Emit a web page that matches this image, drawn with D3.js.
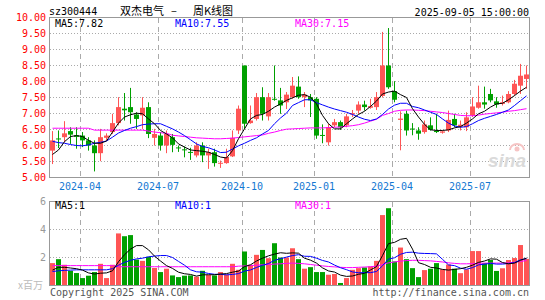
<!DOCTYPE html>
<html>
<head>
<meta charset="utf-8">
<script src="https://cdn.jsdelivr.net/npm/d3@7"></script>
<style>
  body { margin: 0; background: #fff; }
  svg { display: block; }
</style>
</head>
<body>
<script>
// weekly candles, one entry per trading week (2024-03 .. 2025-09-05)
const open = [5.84,6.22,6.26,6.45,6.32,6.31,6.16,6.00,5.76,6.24,6.42,6.70,7.15,7.20,6.97,6.94,7.20,6.24,6.31,6.00,
  6.26,5.94,5.88,5.80,5.69,6.00,5.69,5.79,5.44,5.45,5.66,6.47,8.50,6.70,6.83,7.51,6.91,7.46,7.41,7.35,
  7.51,7.84,7.51,7.51,7.46,6.33,6.10,6.63,6.73,6.63,6.97,7.09,7.28,7.18,7.20,7.55,8.50,7.70,6.80,6.99,
  6.53,6.47,6.42,6.63,6.46,6.40,6.47,6.83,6.59,6.57,6.94,7.18,7.35,7.61,7.38,7.30,7.35,7.61,7.87,8.08];
const high = [6.45,6.47,6.76,6.57,6.57,6.42,6.26,6.16,6.52,6.38,6.99,7.51,7.64,7.80,7.04,7.51,7.35,6.52,6.42,6.47,
  6.36,6.00,5.97,5.93,6.10,6.10,5.90,5.90,5.53,5.90,6.47,7.25,8.50,7.25,7.64,7.82,7.64,8.50,7.80,7.67,
  8.14,8.16,7.67,7.61,7.51,6.66,6.68,6.83,6.78,6.99,7.11,7.38,7.40,7.46,7.67,9.55,9.67,8.01,7.07,7.09,
  6.70,6.57,6.78,6.88,6.99,6.47,7.09,6.99,6.78,7.04,7.51,7.87,7.84,7.77,7.51,7.56,7.70,8.05,8.55,8.50];
const low = [5.42,5.92,6.10,6.05,5.90,5.95,5.84,5.19,5.51,6.16,6.36,6.63,6.78,6.68,6.52,6.52,6.23,6.00,5.84,5.76,
  5.79,5.80,5.63,5.55,5.63,5.48,5.27,5.34,5.30,5.43,5.64,6.36,6.52,6.68,6.78,6.78,6.78,7.40,6.99,7.14,
  7.46,7.46,7.20,6.89,6.21,6.07,6.00,6.57,6.49,6.57,6.89,6.99,7.09,7.15,7.11,7.50,7.77,7.35,5.85,6.31,
  6.32,6.18,6.37,6.47,6.39,6.37,6.42,6.57,6.47,6.45,6.89,7.15,7.15,7.35,7.18,7.25,7.32,7.56,7.61,7.77];
const close = [6.16,6.19,6.38,6.34,6.27,6.16,6.00,5.76,6.26,6.31,6.70,7.20,7.10,7.04,6.83,7.18,6.36,6.36,6.00,6.36,
  6.02,5.92,5.86,5.78,6.00,5.69,5.79,5.45,5.46,5.64,6.24,7.15,6.68,6.78,7.51,6.99,7.51,7.44,7.25,7.59,
  7.87,7.51,7.59,7.41,6.31,6.30,6.57,6.73,6.57,6.91,7.01,7.28,7.20,7.23,7.51,8.50,7.82,7.43,6.84,6.47,
  6.50,6.37,6.66,6.49,6.42,6.44,6.80,6.63,6.65,6.88,7.22,7.35,7.28,7.41,7.28,7.35,7.61,7.93,8.18,8.22];

const ma5 = [5.72,5.86,6.12,6.28,6.31,6.28,6.16,6.07,6.07,6.14,6.42,6.70,6.89,6.96,7.01,6.99,6.83,6.68,6.47,6.36,
  6.24,6.05,5.95,5.86,5.84,5.82,5.79,5.72,5.64,5.61,5.84,6.21,6.52,6.83,6.94,6.97,7.07,7.20,7.30,7.41,
  7.49,7.57,7.59,7.51,7.30,6.94,6.68,6.52,6.52,6.68,6.83,6.97,7.07,7.22,7.39,7.61,7.67,7.70,7.59,7.50,
  7.15,6.89,6.66,6.49,6.47,6.47,6.49,6.55,6.59,6.70,6.83,6.99,7.07,7.20,7.30,7.32,7.43,7.56,7.70,7.82];
const ma10 = [6.13,6.09,6.07,6.03,6.00,5.99,6.02,6.07,6.10,6.14,6.26,6.39,6.47,6.54,6.59,6.65,6.67,6.68,6.68,6.60,
  6.52,6.42,6.31,6.18,6.05,5.97,5.93,5.86,5.78,5.79,5.89,5.99,6.07,6.16,6.24,6.36,6.47,6.68,6.86,7.01,
  7.25,7.34,7.43,7.43,7.34,7.27,7.20,7.14,7.09,7.04,6.97,6.89,6.82,6.78,6.83,6.97,7.14,7.26,7.32,7.32,
  7.22,7.18,7.11,7.04,6.97,6.83,6.70,6.61,6.57,6.59,6.68,6.78,6.85,6.91,6.97,7.04,7.11,7.25,7.40,7.55];
const ma30 = [6.54,6.54,6.54,6.54,6.54,6.54,6.54,6.48,6.48,6.48,6.48,6.48,6.48,6.48,6.48,6.48,6.45,6.42,6.40,6.38,
  6.32,6.30,6.28,6.26,6.24,6.23,6.22,6.21,6.21,6.22,6.23,6.25,6.27,6.29,6.31,6.33,6.38,6.42,6.47,6.51,
  6.52,6.53,6.54,6.55,6.55,6.55,6.56,6.57,6.58,6.60,6.62,6.65,6.70,6.76,6.82,6.94,7.00,7.07,7.10,7.11,
  7.11,7.10,7.09,7.07,7.05,7.03,7.00,6.97,6.94,6.93,6.93,6.95,6.98,7.00,7.02,7.04,7.07,7.09,7.12,7.15];

// volume, millions of shares
const volume = [1.60,1.88,1.48,1.05,0.89,0.53,0.70,0.96,1.55,0.53,1.48,3.72,3.52,3.60,1.85,1.76,2.05,1.25,0.96,1.20,
  0.72,0.60,0.70,0.72,0.63,1.05,0.75,0.72,0.96,0.79,1.55,1.12,2.43,1.48,2.19,2.54,1.95,3.02,2.00,2.00,
  2.66,1.88,1.20,1.31,0.96,0.96,0.77,0.82,0.18,0.53,1.12,1.24,1.29,1.36,1.76,5.03,5.52,1.72,2.71,1.88,
  1.24,0.60,1.10,1.20,1.60,1.15,1.50,1.20,0.88,1.15,2.46,2.46,1.60,1.82,1.04,1.23,1.82,1.96,2.89,1.90];
const volMa5 = [1.10,1.30,1.30,1.25,1.20,1.10,0.90,0.82,0.88,0.90,1.05,1.70,2.20,2.60,2.85,2.85,2.55,2.10,1.75,1.42,
  1.22,0.95,0.84,0.79,0.67,0.76,0.77,0.77,0.82,0.85,0.95,1.03,1.35,1.48,1.75,1.95,2.12,2.24,2.34,2.30,
  2.33,2.31,1.95,1.81,1.60,1.26,1.04,0.96,0.74,0.65,0.68,0.80,0.87,1.11,1.35,2.14,2.99,3.08,3.30,3.37,
  2.60,1.63,1.50,1.30,1.25,1.15,1.10,1.15,1.20,1.30,1.45,1.65,1.75,1.90,1.88,1.64,1.55,1.60,1.80,1.96];
const volMa10 = [1.00,1.05,1.08,1.10,1.12,1.12,1.12,1.12,1.12,1.12,1.20,1.45,1.65,1.80,1.90,1.95,2.05,2.10,2.14,2.14,
  2.00,1.72,1.45,1.12,0.98,0.95,0.86,0.80,0.80,0.76,0.79,0.85,1.03,1.11,1.29,1.44,1.57,1.80,1.91,2.03,
  2.14,2.20,2.09,2.08,1.95,1.79,1.68,1.46,1.27,1.13,0.97,0.91,0.92,0.92,1.00,1.41,1.89,1.98,2.23,2.36,
  2.38,2.31,2.29,2.28,2.26,1.87,1.47,1.42,1.24,1.16,1.28,1.47,1.52,1.58,1.53,1.53,1.57,1.64,1.84,1.92];
const volMa30 = [1.42,1.42,1.42,1.42,1.42,1.42,1.42,1.42,1.42,1.42,1.42,1.34,1.34,1.34,1.34,1.34,1.34,1.34,1.34,1.34,
  1.34,1.34,1.34,1.34,1.34,1.34,1.34,1.34,1.34,1.34,1.34,1.38,1.40,1.42,1.45,1.48,1.50,1.53,1.55,1.58,
  1.60,1.58,1.55,1.50,1.45,1.40,1.36,1.33,1.30,1.28,1.28,1.30,1.32,1.34,1.38,1.50,1.62,1.68,1.74,1.78,
  1.80,1.80,1.78,1.76,1.72,1.68,1.62,1.58,1.55,1.55,1.56,1.58,1.60,1.60,1.60,1.60,1.62,1.66,1.72,1.78];

const tickIdx = [5, 18, 32, 44, 57, 70];
const tickLabels = ['2024-04', '2024-07', '2024-10', '2025-01', '2025-04', '2025-07'];
const priceTicks = [5, 5.5, 6, 6.5, 7, 7.5, 8, 8.5, 9, 9.5, 10];
const volTicks = [2, 4, 6];

const w = 545;
const h = 300;
const red = '#ff5555';
const green = '#00a000';
const mono = '"DejaVu Sans Mono", monospace';
const cjk = '"Noto Sans CJK SC", sans-serif';

const svg = d3.select('body').append('svg')
  .attr('width', w)
  .attr('height', h);

const idx = d3.range(open.length);

const x = d3.scaleBand()
  .domain(idx)
  .range([50, 530]);

const yP = d3.scaleLinear()
  .domain([5, 10])
  .range([177.5, 17.5]);

const yV = d3.scaleLinear()
  .domain([0, 6])
  .range([285.5, 201.5]);

const cx = i => x(i) + 2.5;
const px = v => Math.round(v - 0.5) + 0.5;
const last = a => a[a.length - 1];

/**
 * header
 */
svg.append('text')
  .attr('x', 49).attr('y', 15)
  .attr('font-family', mono).attr('font-size', 10)
  .attr('fill', '#000')
  .text('sz300444');

[['双杰电气', 120], ['–', 171], ['周K线图', 193]].forEach(([t, tx]) => {
  svg.append('text')
    .attr('x', tx).attr('y', 15)
    .attr('font-family', cjk).attr('font-size', 11)
    .attr('fill', '#000')
    .text(t);
});

svg.append('text')
  .attr('x', 529).attr('y', 16)
  .attr('text-anchor', 'end')
  .attr('font-family', mono).attr('font-size', 10)
  .attr('fill', '#000')
  .text('2025-09-05 15:00:00');

/**
 * grids
 */
const grid = svg.append('g');

grid.selectAll('.pgrid')
  .data(priceTicks.slice(1, -1))
  .enter().append('line')
  .attr('x1', 50).attr('x2', 529)
  .attr('y1', d => px(yP(d))).attr('y2', d => px(yP(d)))
  .attr('stroke', '#aaa')
  .attr('stroke-dasharray', '1,2');

grid.selectAll('.vgrid')
  .data(volTicks.slice(0, -1))
  .enter().append('line')
  .attr('x1', 50).attr('x2', 529)
  .attr('y1', d => px(yV(d))).attr('y2', d => px(yV(d)))
  .attr('stroke', '#aaa')
  .attr('stroke-dasharray', '1,2');

tickIdx.forEach(t => {
  [[18, 177], [202, 285]].forEach(([a, b]) => {
    grid.append('line')
      .attr('x1', x(t) + 0.5).attr('x2', x(t) + 0.5)
      .attr('y1', a).attr('y2', b)
      .attr('stroke', '#aaa')
      .attr('stroke-dasharray', '5,4');
  });
});

/**
 * sina watermark
 */
svg.append('path')
  .attr('d', 'M510,150 a7,6 0 1,1 14,0')
  .attr('fill', 'none').attr('stroke', '#f6c4c4').attr('stroke-width', 2);
svg.append('circle')
  .attr('cx', 517).attr('cy', 149).attr('r', 2.5)
  .attr('fill', '#f6c4c4');
svg.append('text')
  .attr('x', 526).attr('y', 167)
  .attr('text-anchor', 'end')
  .attr('font-family', 'Arial, "Liberation Sans", sans-serif')
  .attr('font-size', 19).attr('font-weight', 'bold').attr('font-style', 'italic')
  .attr('fill', '#dadada')
  .text('sina');

/**
 * candles
 */
const colorOf = i => close[i] >= open[i] ? red : green;

const candles = svg.append('g');

candles.selectAll('.wick')
  .data(idx)
  .enter().append('line')
  .attr('x1', cx).attr('x2', cx)
  .attr('y1', i => yP(high[i])).attr('y2', i => yP(low[i]))
  .attr('stroke', colorOf);

candles.selectAll('.body')
  .data(idx)
  .enter().append('rect')
  .attr('x', i => x(i))
  .attr('width', 5)
  .attr('y', i => yP(Math.max(open[i], close[i])))
  .attr('height', i => Math.max(1, Math.abs(yP(open[i]) - yP(close[i]))))
  .attr('fill', colorOf);

/**
 * volume bars
 */
svg.append('g').selectAll('rect')
  .data(idx)
  .enter().append('rect')
  .attr('x', i => x(i))
  .attr('width', 5)
  .attr('y', i => yV(volume[i]))
  .attr('height', i => yV(0) - yV(volume[i]))
  .attr('fill', colorOf);

/**
 * moving averages
 */
const drawLine = (values, scale, color) => {
  svg.append('path')
    .datum(values)
    .attr('fill', 'none')
    .attr('stroke', color)
    .attr('stroke-width', 1)
    .attr('d', d3.line().x((d, i) => cx(i)).y(d => scale(d)));
};

drawLine(ma30, yP, '#ff00ff');
drawLine(ma10, yP, '#0000ff');
drawLine(ma5, yP, '#000000');
drawLine(volMa30, yV, '#ff00ff');
drawLine(volMa10, yV, '#0000ff');
drawLine(volMa5, yV, '#000000');

/**
 * frames
 */
svg.append('rect')
  .attr('x', 49.5).attr('y', 17.5)
  .attr('width', 480).attr('height', 160)
  .attr('fill', 'none').attr('stroke', '#999');

svg.append('rect')
  .attr('x', 49.5).attr('y', 201.5)
  .attr('width', 480).attr('height', 84)
  .attr('fill', 'none').attr('stroke', '#999');

/**
 * axis labels
 */
svg.selectAll('.plabel')
  .data(priceTicks)
  .enter().append('text')
  .attr('x', 46)
  .attr('y', d => yP(d) + 3.5)
  .attr('text-anchor', 'end')
  .attr('font-family', mono).attr('font-size', 10)
  .attr('fill', '#ff0000')
  .text(d => d.toFixed(2));

svg.selectAll('.vlabel')
  .data(volTicks)
  .enter().append('text')
  .attr('x', 46)
  .attr('y', d => yV(d) + 3.5)
  .attr('text-anchor', 'end')
  .attr('font-family', mono).attr('font-size', 10)
  .attr('fill', '#999')
  .text(d => d);

svg.append('text')
  .attr('x', 18).attr('y', 289)
  .attr('font-family', cjk).attr('font-size', 10)
  .attr('fill', '#bbb')
  .text('x百万');

svg.selectAll('.xlabel')
  .data(tickIdx)
  .enter().append('text')
  .attr('x', d => x(d))
  .attr('y', 190)
  .attr('text-anchor', 'middle')
  .attr('font-family', mono).attr('font-size', 10)
  .attr('fill', '#1478d2')
  .text((d, i) => tickLabels[i]);

/**
 * legends
 */
const legend = (tx, ty, label, color) => {
  svg.append('text')
    .attr('x', tx).attr('y', ty)
    .attr('font-family', mono).attr('font-size', 10)
    .attr('fill', color)
    .text(label);
};

legend(55, 27, 'MA5:' + last(ma5).toFixed(2), '#000');
legend(175, 27, 'MA10:' + last(ma10).toFixed(2), '#0000ff');
legend(295, 27, 'MA30:' + last(ma30).toFixed(2), '#ff00ff');
legend(55, 209, 'MA5:' + Math.floor(last(volMa5)), '#000');
legend(175, 209, 'MA10:' + Math.floor(last(volMa10)), '#0000ff');
legend(295, 209, 'MA30:' + Math.floor(last(volMa30)), '#ff00ff');

svg.append('text')
  .attr('x', 50).attr('y', 296)
  .attr('font-family', mono).attr('font-size', 10)
  .attr('fill', '#555')
  .text('Copyright 2025 SINA.COM');

svg.append('text')
  .attr('x', 529).attr('y', 296)
  .attr('text-anchor', 'end')
  .attr('font-family', mono).attr('font-size', 10)
  .attr('fill', '#555')
  .text('http://finance.sina.com.cn');
</script>
</body>
</html>
